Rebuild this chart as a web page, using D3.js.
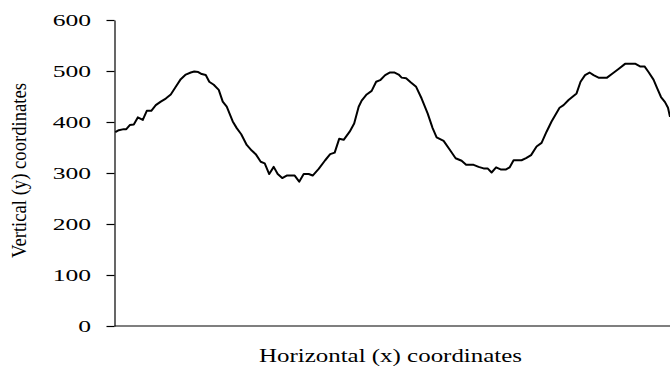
<!DOCTYPE html>
<html>
<head>
<meta charset="utf-8">
<script src="https://cdn.jsdelivr.net/npm/d3@7"></script>
<style>
  html, body { margin: 0; padding: 0; background: #fff; }
  svg { display: block; }
  text { font-family: "Liberation Serif", "Times New Roman", serif; fill: #000; }
</style>
</head>
<body>
<svg id="chart" width="670" height="369"></svg>
<script>
// Traced path: horizontal coordinate and vertical coordinate of each sample
const xCoords = [0, 3.5, 8.5, 11, 14.5, 18.5, 22.5, 27.5, 31.5, 36, 40.5, 45.5, 50.5, 55.5, 60.5, 65.5, 70.5, 75.5, 79, 83,
  86.5, 90.5, 94, 98.5, 103.5, 107.5, 111.5, 117.5, 121.5, 126, 131.5, 136.5, 140.5, 145.5, 149.5, 154, 158.5, 162.5, 167, 171.5,
  179.5, 184, 188.5, 193.5, 197.5, 203.5, 210, 215, 219.5, 224, 228.5, 234.5, 239, 243.5, 246.5, 251.5, 256.5, 261, 265, 270,
  274.5, 279.5, 283.5, 286.5, 291, 295.5, 301, 306.5, 312.5, 317.5, 321.5, 328.5, 334.5, 340.5, 346.5, 351, 358.5, 363.5, 368.5, 372.5,
  376.5, 381, 385.5, 391, 394.5, 398.5, 406.5, 411, 416, 421.5, 426.5, 431.5, 436.5, 444.5, 448.5, 453.5, 461.5, 465.5, 470, 474.5,
  478.5, 483.5, 492, 497.5, 503.5, 510, 515, 520.5, 525, 529.5, 533.5, 538.5, 542, 546, 550, 553, 555];
const yCoords = [380, 384, 386, 386, 394, 395, 409, 404, 422, 422, 433, 440, 446, 454, 469, 484, 493, 497, 499, 498,
  494, 492, 479, 473, 463, 440, 430, 401, 388, 376, 355, 344, 337, 322, 319, 298, 312, 298, 290, 295,
  295, 283, 298, 298, 295, 308, 325, 337, 340, 367, 365, 381, 397, 430, 442, 454, 461, 479, 482, 492,
  497, 497, 493, 487, 486, 478, 469, 446, 417, 388, 370, 363, 346, 329, 324, 316, 316, 312, 309, 309,
  301, 311, 307, 307, 311, 325, 325, 329, 335, 352, 359, 381, 401, 428, 433, 443, 456, 479, 492, 497,
  492, 487, 487, 495, 504, 514, 514, 514, 509, 509, 498, 483, 467, 449, 439, 428, 410];
const yTicks = [0, 100, 200, 300, 400, 500, 600];
const xTitle = "Horizontal (x) coordinates";
const yTitle = "Vertical (y) coordinates";

const svg = d3.select("#chart");
const plotLeft = 114.5, plotRight = 670, plotTop = 20, plotBottom = 326;

const x = d3.scaleLinear().domain([0, 555]).range([plotLeft + 0.8, plotRight]);
const y = d3.scaleLinear().domain([0, 600]).range([plotBottom, plotTop]);

// stretch a text element horizontally along its advance direction
function widen(sel, factor) {
  sel.each(function () {
    const w = this.getComputedTextLength();
    d3.select(this).attr("textLength", w * factor).attr("lengthAdjust", "spacingAndGlyphs");
  });
}

// Y axis
const yAxis = svg.append("g")
  .attr("transform", `translate(${plotLeft},0)`)
  .call(d3.axisLeft(y).tickValues(yTicks).tickSize(8).tickPadding(15.5).tickSizeOuter(0));
yAxis.select(".domain").attr("stroke", "#000").attr("stroke-width", 1.2);
yAxis.selectAll(".tick line").attr("stroke", "#000").attr("stroke-width", 1.2);
yAxis.selectAll(".tick text")
  .attr("font-size", 16.5)
  .attr("fill", "#000")
  .call(widen, 1.55);

// X axis (no ticks)
svg.append("line")
  .attr("x1", plotLeft).attr("x2", plotRight)
  .attr("y1", y(0)).attr("y2", y(0))
  .attr("stroke", "#000").attr("stroke-width", 1.2);

// Path
const pts = xCoords.map((d, i) => [d, yCoords[i]]);
svg.append("path")
  .datum(pts)
  .attr("fill", "none")
  .attr("stroke", "#000")
  .attr("stroke-width", 2)
  .attr("stroke-linejoin", "round")
  .attr("d", d3.line().x(d => x(d[0])).y(d => y(d[1])));

// Axis titles
svg.append("text")
  .attr("x", 390.5).attr("y", 362)
  .attr("text-anchor", "middle")
  .attr("font-size", 18.5)
  .attr("textLength", 263)
  .attr("lengthAdjust", "spacingAndGlyphs")
  .text(xTitle);

svg.append("text")
  .attr("transform", "translate(25.5,170.5) rotate(-90)")
  .attr("text-anchor", "middle")
  .attr("font-size", 20)
  .attr("textLength", 175)
  .attr("lengthAdjust", "spacingAndGlyphs")
  .text(yTitle);
</script>
</body>
</html>
